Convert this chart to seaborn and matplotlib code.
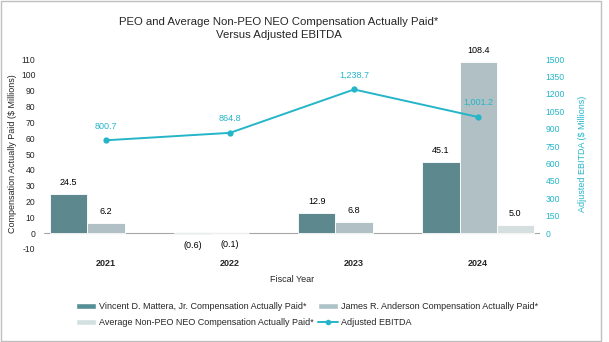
import matplotlib
matplotlib.use("Agg")
import matplotlib.pyplot as plt
import seaborn as sns
import pandas as pd
import numpy as np
from matplotlib.patches import Patch, Rectangle
from matplotlib.lines import Line2D

years = ["2021", "2022", "2023", "2024"]
mattera = [24.5, -0.6, 12.9, 45.1]
anderson = [6.2, -0.1, 6.8, 108.4]
avg_neo = [np.nan, np.nan, np.nan, 5.0]
ebitda = [800.7, 864.8, 1238.7, 1001.2]
series_names = ["Vincent D. Mattera, Jr. Compensation Actually Paid*",
                "James R. Anderson Compensation Actually Paid*",
                "Average Non-PEO NEO Compensation Actually Paid*"]
line_name = "Adjusted EBITDA"
left_ticks = list(range(-10, 111, 10))
right_ticks = list(range(0, 1501, 150))

colors = ["#558e95", "#adc2c7", "#d3e0e2"]
cyan = "#25b5c8"

sns.set_theme(style="white")
plt.rcParams['font.family'] = ['Liberation Sans', 'DejaVu Sans']

rows = []
for name, vals in zip(series_names, [mattera, anderson, avg_neo]):
    for y, v in zip(years, vals):
        rows.append({"Year": y, "Series": name, "Value": v})
df = pd.DataFrame(rows)

fig = plt.figure(figsize=(6.09, 3.42), dpi=100)
ax = fig.add_axes([0.072, 0.272, 0.815, 0.555])
sns.barplot(data=df, x="Year", y="Value", hue="Series", hue_order=series_names,
            palette=colors, width=0.9, ax=ax, legend=False, edgecolor="white",
            linewidth=0.6, errorbar=None)
ax.set_xlim(-0.5, 3.5)
ax.set_ylim(-10, 110)
ax.set_yticks(left_ticks)
ax.set_yticklabels([str(t) for t in left_ticks], fontsize=6.2)
ax.tick_params(axis='y', length=0, pad=6)
ax.tick_params(axis='x', length=0, pad=7)
for lab in ax.get_xticklabels():
    lab.set_fontweight('bold')
    lab.set_fontsize(6.5)
ax.axhline(0, color="#a6a6a6", lw=0.8, zorder=0.5)
for s in ax.spines.values():
    s.set_visible(False)
ax.set_xlabel("Fiscal Year", fontsize=6.5, labelpad=5)
ax.set_ylabel("Compensation Actually Paid ($ Millions)", fontsize=6.5)
ax.yaxis.set_label_coords(-0.054, 0.5)

# bar value labels
for cont in ax.containers:
    labels = []
    for v in cont.datavalues:
        if np.isnan(v):
            labels.append("")
        elif v < 0:
            labels.append(f"({abs(v):.1f})")
        else:
            labels.append(f"{v:.1f}")
    ax.bar_label(cont, labels=labels, fontsize=6.5, padding=5, color="black")

ax2 = ax.twinx()
sns.lineplot(x=np.arange(len(years)), y=ebitda, ax=ax2, color=cyan, marker="o",
             markersize=4.5, markeredgewidth=0, linewidth=1.4)
ax2.set_ylim(-10 * 1500 / 110, 1500)
ax2.set_yticks(right_ticks)
ax2.set_yticklabels([str(t) for t in right_ticks], fontsize=6.2, color=cyan)
ax2.tick_params(axis='y', length=0, pad=4)
for s in ax2.spines.values():
    s.set_visible(False)
ax2.set_ylabel("Adjusted EBITDA ($ Millions)", fontsize=6.5, color=cyan)
ax2.yaxis.set_label_coords(1.076, 0.5)
for i, v in enumerate(ebitda):
    ax2.annotate(f"{v:,.1f}", (i, v), xytext=(0, 7), textcoords="offset points",
                 ha="center", va="bottom", fontsize=6.5, color=cyan)

fig.text(0.458, 0.917, "PEO and Average Non-PEO NEO Compensation Actually Paid*\nVersus Adjusted EBITDA",
         ha="center", va="center", fontsize=8.2, linespacing=1.3)

handles = [Patch(facecolor=colors[0]), Patch(facecolor=colors[2]),
           Patch(facecolor=colors[1]),
           Line2D([0], [0], color=cyan, marker="o", markersize=3, lw=1.4)]
labels = [series_names[0], series_names[2], series_names[1], line_name]
fig.legend(handles, labels, loc="center", bbox_to_anchor=(0.504, 0.08), ncol=2,
           frameon=False, fontsize=6.5, handlelength=2.2, handleheight=0.6,
           columnspacing=0.5, handletextpad=0.3, labelspacing=0.75)

fig.patches.append(Rectangle((0.002, 0.003), 0.985, 0.994, transform=fig.transFigure,
                             fill=False, edgecolor="#bfbfbf", lw=1))
fig.savefig("out.png", dpi=100)
